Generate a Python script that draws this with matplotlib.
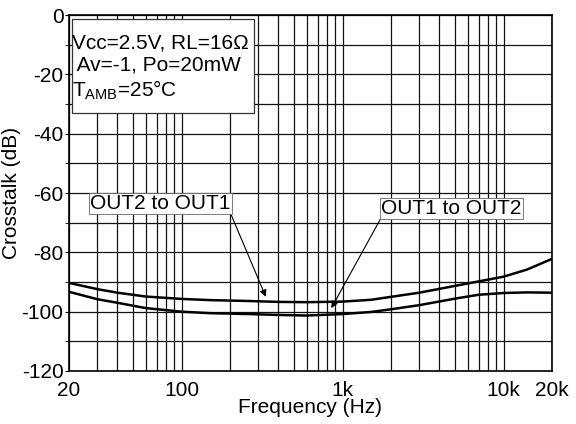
import numpy as np
import matplotlib
matplotlib.use("Agg")
import matplotlib.pyplot as plt
from matplotlib.patches import Rectangle
from matplotlib.ticker import FixedLocator, NullFormatter, MultipleLocator

plt.rcParams['font.family'] = ['Liberation Sans', 'DejaVu Sans']
plt.rcParams['mathtext.fontset'] = 'custom'
plt.rcParams['mathtext.rm'] = 'Liberation Sans'
plt.rcParams['axes.unicode_minus'] = False

# Crosstalk vs frequency
freq = [20, 30, 40, 60, 100, 150, 260, 400, 600, 1000, 1500, 2000, 3000, 5000, 7000, 10000, 14000, 20000]
out2_to_out1 = [-90.3, -92.4, -93.6, -94.9, -95.7, -96.1, -96.4, -96.7, -96.8, -96.6, -96.0, -95.0, -93.6, -91.3, -89.8, -88.2, -85.8, -82.2]
out1_to_out2 = [-93.3, -95.8, -97.0, -98.8, -100.0, -100.5, -100.8, -101.1, -101.3, -100.8, -100.1, -99.2, -97.8, -95.6, -94.3, -93.7, -93.5, -93.6]

xticks = [20, 100, 1000, 10000, 20000]
xticklabels = ['20', '100', '1k', '10k', '20k']
yticks = [0, -20, -40, -60, -80, -100, -120]

fs = 15

fig = plt.figure(figsize=(5.76, 4.24), dpi=100)
ax = fig.add_axes([0.1198, 0.125, 0.8385, 0.8395])

ax.plot(freq, out2_to_out1, color='black', lw=1.8)
ax.plot(freq, out1_to_out2, color='black', lw=1.8)

ax.set_xscale('log')
ax.set_xlim(20, 20000)
ax.set_ylim(-120, 0)

# grid on every log minor step and every 10 dB
vgrid = [m * 10**d for d in range(1, 5) for m in range(1, 10) if 20 <= m * 10**d <= 20000]
ax.xaxis.set_major_locator(FixedLocator(xticks))
ax.set_xticklabels(xticklabels)
ax.xaxis.set_minor_locator(FixedLocator(vgrid))
ax.xaxis.set_minor_formatter(NullFormatter())
ax.yaxis.set_major_locator(FixedLocator(yticks))
ax.yaxis.set_minor_locator(MultipleLocator(10))
ax.grid(True, which='both', color='#111111', lw=0.9)
ax.tick_params(axis='x', which='both', length=0, labelsize=fs, pad=7)
ax.tick_params(axis='y', which='both', length=3, direction='out', labelsize=fs, pad=1)
for s in ax.spines.values():
    s.set_linewidth(1.2)

ax.set_xlabel('Frequency (Hz)', fontsize=fs, labelpad=-1)
ax.set_ylabel('Crosstalk (dB)', fontsize=fs, labelpad=0)

# conditions box
ax.add_patch(Rectangle((0.006, 0.726), 0.377, 0.264, transform=ax.transAxes,
                       fc='white', ec='#333333', lw=0.9, zorder=4))
ax.text(0.006, 0.852, 'Vcc=2.5V, RL=16\u03a9\n Av=-1, Po=20mW\nT$_{\\mathrm{AMB}}$=25\u00b0C',
        transform=ax.transAxes, ha='left', va='center', fontsize=fs, linespacing=1.2,
        zorder=5)

ax.annotate('OUT2 to OUT1', xy=(334, -95.0), xytext=(27, -63.5), fontsize=fs,
            ha='left', va='center',
            bbox=dict(boxstyle='square,pad=0.06', fc='white', ec='#666666', lw=0.6),
            arrowprops=dict(arrowstyle='-|>', color='black', lw=0.8, mutation_scale=10,
                            shrinkA=0, shrinkB=0, relpos=(1.0, 0.0)))
ax.annotate('OUT1 to OUT2', xy=(852, -98.8), xytext=(1735, -65.2), fontsize=fs,
            ha='left', va='center',
            bbox=dict(boxstyle='square,pad=0.06', fc='white', ec='#666666', lw=0.6),
            arrowprops=dict(arrowstyle='-|>', color='black', lw=0.8, mutation_scale=10,
                            shrinkA=0, shrinkB=0, relpos=(0.0, 0.0)))

fig.savefig('out.png', dpi=100)
